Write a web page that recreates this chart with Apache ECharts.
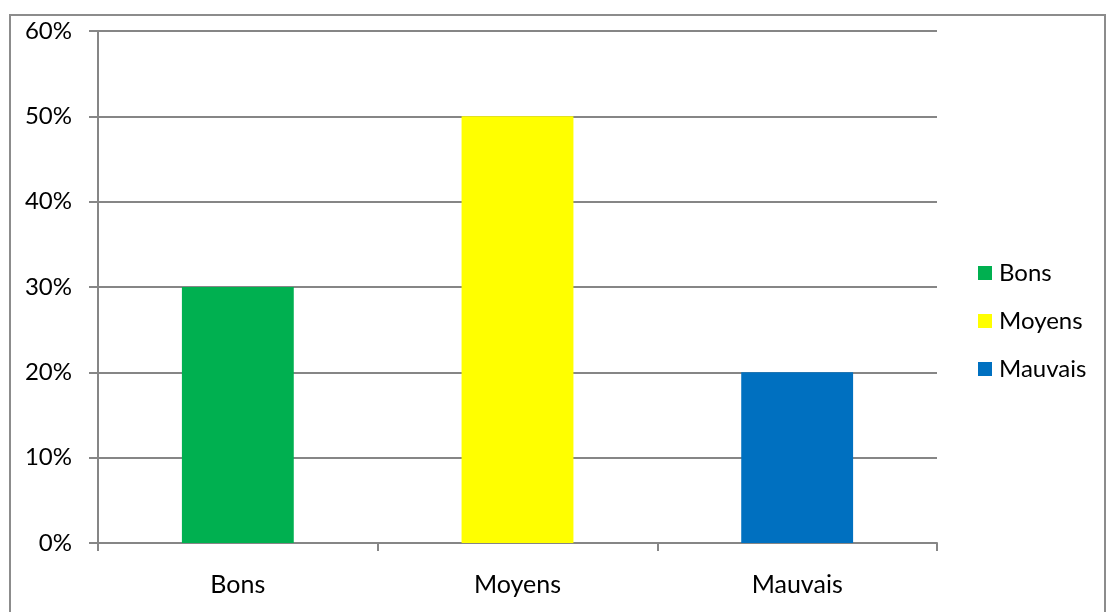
<!DOCTYPE html>
<html>
<head>
<meta charset="utf-8">
<script src="https://cdn.jsdelivr.net/npm/echarts@6/dist/echarts.min.js"></script>
<style>
  html, body { margin: 0; padding: 0; background: #fff; }
  #chart { width: 1106px; height: 612px; }
</style>
</head>
<body>
<div id="chart"></div>
<script>
// categories and values (percent)
const categories = ['Bons', 'Moyens', 'Mauvais'];
const values = [30, 50, 20];
const colors = ['#00B050', '#FFFF00', '#0070C0'];
const yTicks = [0, 10, 20, 30, 40, 50, 60];

const chart = echarts.init(document.getElementById('chart'));

// one series per category so the legend lists each one
let series = [];
for (let i = 0; i < categories.length; i++) {
  let data = categories.map((c, k) => (k === i ? values[i] : '-'));
  series.push({
    name: categories[i],
    type: 'bar',
    stack: 'all',
    barWidth: '40%',
    itemStyle: { color: colors[i] },
    data: data
  });
}

const font = 'Lato, "Open Sans", sans-serif';

let option = {
  backgroundColor: '#ffffff',
  animation: false,
  textStyle: { fontFamily: font },
  graphic: [{
    type: 'rect',
    shape: { x: 10, y: 15, width: 1095, height: 620 },
    style: { fill: 'none', stroke: '#8c8c8c', lineWidth: 2 },
    silent: true
  }],
  grid: { left: 98, right: 169, top: 31, bottom: 69 },
  legend: {
    orient: 'vertical',
    left: 973,
    top: 256,
    itemWidth: 14,
    itemHeight: 14,
    itemGap: 24,
    icon: 'rect',
    data: categories,
    textStyle: { fontSize: 24, color: '#000', fontFamily: font, padding: [0, 0, 0, 2] }
  },
  xAxis: {
    type: 'category',
    data: categories,
    axisLine: { lineStyle: { color: '#868686', width: 2 } },
    axisTick: { show: true, length: 8, alignWithLabel: false, lineStyle: { color: '#868686', width: 2 } },
    axisLabel: { fontSize: 25, color: '#000', margin: 29, fontFamily: font }
  },
  yAxis: {
    type: 'value',
    min: 0,
    max: 60,
    interval: 10,
    axisLine: { show: true, lineStyle: { color: '#868686', width: 2 } },
    axisTick: { show: true, length: 9, lineStyle: { color: '#868686', width: 2 } },
    splitLine: { lineStyle: { color: '#868686', width: 2 } },
    axisLabel: {
      fontSize: 24, color: '#000', margin: 26, fontFamily: font,
      formatter: v => (yTicks.indexOf(v) >= 0 ? v + '%' : '')
    }
  },
  series: series
};

chart.setOption(option);
</script>
</body>
</html>
